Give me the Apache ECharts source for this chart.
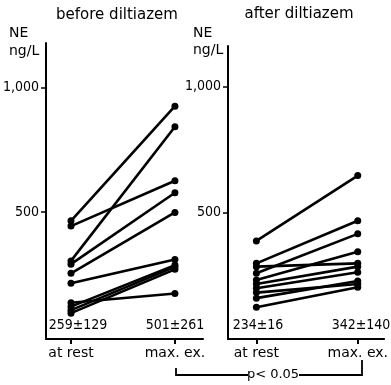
<!DOCTYPE html>
<html><head><meta charset="utf-8">
<script src="https://cdn.jsdelivr.net/npm/echarts@6/dist/echarts.min.js"></script>
<style>html,body{margin:0;padding:0;background:#fff}#c{width:391px;height:385px}</style>
</head><body><div id="c"></div>
<script>
const categories = ['at rest', 'max. ex.'];
const yTicks = [500, 1000];
const yTickLabels = ['500', '1,000'];
const panelTitles = ['before diltiazem', 'after diltiazem'];
const meanLabels = [['259±129', '501±261'], ['234±16', '342±140']];
// before diltiazem: each subject's NE at rest and at max. exercise
const beforeRest = [465, 444, 304, 291, 254, 214, 136, 120, 106, 94];
const beforeMax  = [926, 626, 843, 578, 499, 310, 173, 287, 280, 270];
// after diltiazem
const afterRest = [387, 298, 285, 259, 232, 216, 199, 182, 160, 124];
const afterMax  = [646, 467, 298, 415, 344, 285, 263, 216, 228, 203];

const FONT = '"DejaVu Sans", sans-serif';
const COND = '"DejaVu Sans Condensed", "Liberation Sans Narrow", "DejaVu Sans", sans-serif';

function mkSeries(rest, max, idx) {
  return rest.map((r, i) => ({
    type: 'line', xAxisIndex: idx, yAxisIndex: idx,
    data: [[0, r], [1, max[i]]],
    symbol: 'circle', symbolSize: 7,
    lineStyle: { color: '#000', width: 2.6 },
    itemStyle: { color: '#000' },
    silent: true, animation: false
  }));
}

const xAxisBase = (min, max) => ({
  type: 'value', min, max,
  axisLine: { show: true, onZero: false, lineStyle: { color: '#000', width: 2 } },
  axisTick: { show: true, customValues: [0, 1], length: 5, inside: false, lineStyle: { color: '#000', width: 2 } },
  axisLabel: { customValues: [0, 1], formatter: v => categories[Math.round(v)], color: '#000', fontSize: 14, fontFamily: FONT, margin: 7 },
  splitLine: { show: false }
});
const yAxisBase = (min, max) => ({
  type: 'value', min, max,
  axisLine: { show: true, onZero: false, lineStyle: { color: '#000', width: 2 } },
  axisTick: { show: true, customValues: yTicks, length: 5, lineStyle: { color: '#000', width: 1.5 } },
  axisLabel: { customValues: yTicks, formatter: v => yTickLabels[yTicks.indexOf(v)], color: '#000', fontSize: 14, fontFamily: COND, margin: 7 },
  splitLine: { show: false }
});

const txt = (x, y, s, align, size, fam) => ({
  type: 'text', x, y, style: { text: s, fill: '#000', font: (size || 13) + 'px ' + (fam || FONT), textAlign: align || 'center', textVerticalAlign: 'middle' }, silent: true
});

const chart = echarts.init(document.getElementById('c'), null, { renderer: 'canvas' });
chart.setOption({
  animation: false,
  backgroundColor: '#fff',
  grid: [
    { left: 45, top: 43, width: 158, height: 296 },
    { left: 228, top: 46, width: 160, height: 293 }
  ],
  xAxis: [xAxisBase(-0.24, 1.27), Object.assign(xAxisBase(-0.28, 1.26), { gridIndex: 1 })],
  yAxis: [yAxisBase(-10, 1180), Object.assign(yAxisBase(-2, 1160), { gridIndex: 1 })],
  series: [...mkSeries(beforeRest, beforeMax, 0), ...mkSeries(afterRest, afterMax, 1)],
  graphic: [
    txt(117, 15, panelTitles[0], 'center', 15),
    txt(299, 14, panelTitles[1], 'center', 15),
    txt(9, 33, 'NE', 'left', 14),
    txt(9, 51, 'ng/L', 'left', 14),
    txt(193, 33, 'NE', 'left', 14),
    txt(193, 50, 'ng/L', 'left', 14),
    txt(78, 325, meanLabels[0][0], 'center', 14, COND),
    txt(175, 325, meanLabels[0][1], 'center', 14, COND),
    txt(258, 325, meanLabels[1][0], 'center', 14, COND),
    txt(361, 325, meanLabels[1][1], 'center', 14, COND),
    { type: 'polyline', shape: { points: [[176, 368], [176, 375], [248, 375]] }, style: { stroke: '#000', lineWidth: 1.8, fill: null }, silent: true },
    { type: 'polyline', shape: { points: [[299, 375], [362, 375], [362, 360]] }, style: { stroke: '#000', lineWidth: 1.8, fill: null }, silent: true },
    txt(273, 375, 'p< 0.05', 'center', 13)
  ]
});
</script></body></html>
